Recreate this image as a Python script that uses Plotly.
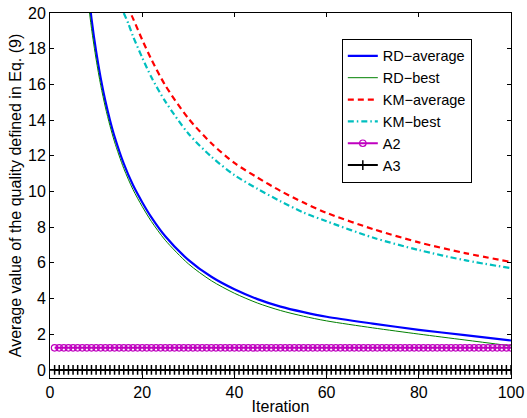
import plotly.graph_objects as go

# ---- data ----
rd_x = [8, 9, 10, 11, 12, 13, 14, 16, 18, 20, 22, 25, 30, 35, 40, 45, 50, 55, 60, 70, 80, 90, 100]
rd_average = [21.95, 19.69, 17.86, 16.35, 15.08, 14.01, 13.08, 11.56, 10.36, 9.4, 8.55, 7.49, 6.17, 5.22, 4.52, 3.97, 3.55, 3.24, 2.98, 2.6, 2.25, 1.95, 1.65]
rd_best = [21.25, 19.14, 17.41, 15.95, 14.73, 13.69, 12.78, 11.29, 10.11, 9.16, 8.32, 7.27, 5.95, 5.0, 4.3, 3.75, 3.33, 3.01, 2.75, 2.36, 2.01, 1.68, 1.35]

km_x = [16, 17, 18, 20, 22, 25, 30, 35, 40, 45, 50, 55, 60, 70, 80, 90, 100]
km_average = [20.9, 20.25, 19.7, 18.5, 17.4, 15.95, 14.1, 12.7, 11.6, 10.78, 10.03, 9.38, 8.8, 7.9, 7.15, 6.55, 6.05]
km_best = [20.0, 19.4, 18.7, 17.5, 16.4, 15.05, 13.25, 11.95, 10.92, 10.15, 9.45, 8.82, 8.33, 7.42, 6.72, 6.15, 5.7]

iterations = list(range(1, 101))
a2 = [1.24] * 100
a3 = [0.0] * 100

x_ticks = [0, 20, 40, 60, 80, 100]
y_ticks = [0, 2, 4, 6, 8, 10, 12, 14, 16, 18, 20]

FONT = "Liberation Sans"

fig = go.Figure()
fig.add_trace(go.Scatter(x=rd_x, y=rd_average, mode="lines", name="RD\u2212average",
                         line=dict(color="#0000ff", width=2.2, shape="spline", smoothing=0.8)))
fig.add_trace(go.Scatter(x=rd_x, y=rd_best, mode="lines", name="RD\u2212best",
                         line=dict(color="#008000", width=1, shape="spline", smoothing=0.8)))
fig.add_trace(go.Scatter(x=km_x, y=km_average, mode="lines", name="KM\u2212average",
                         line=dict(color="#ff0000", width=2.2, dash="6px,4px",
                                   shape="spline", smoothing=0.8)))
fig.add_trace(go.Scatter(x=km_x, y=km_best, mode="lines", name="KM\u2212best",
                         line=dict(color="#00bfbf", width=2.2, dash="6px,3px,1.5px,3px",
                                   shape="spline", smoothing=0.8)))
fig.add_trace(go.Scatter(x=iterations, y=a2, mode="lines+markers", name="A2",
                         line=dict(color="#bf00bf", width=2),
                         marker=dict(symbol="circle-open", size=6.5, color="#bf00bf",
                                     line=dict(width=1.2, color="#bf00bf"))))
fig.add_trace(go.Scatter(x=iterations, y=a3, mode="lines+markers", name="A3",
                         line=dict(color="#000000", width=2),
                         marker=dict(symbol="cross-thin", size=7, color="#000000",
                                     line=dict(width=1.5, color="#000000"))))

axis_common = dict(showline=True, linecolor="black", linewidth=1, mirror="ticks",
                   ticks="inside", ticklen=4, tickcolor="black", showgrid=False,
                   zeroline=False, automargin=False,
                   tickfont=dict(family=FONT, size=16, color="black"))

fig.update_layout(
    width=527, height=418,
    margin=dict(l=50, r=16, t=13, b=40),
    paper_bgcolor="white", plot_bgcolor="white",
    font=dict(family=FONT, size=16, color="black"),
    showlegend=True,
    legend=dict(x=0.633, y=0.929, xanchor="left", yanchor="top",
                bgcolor="white", bordercolor="black", borderwidth=1,
                font=dict(family=FONT, size=14.5, color="black"),
                tracegroupgap=0),
    xaxis=dict(range=[0, 100], tickvals=x_ticks, **axis_common,
               title=dict(text="Iteration", font=dict(family=FONT, size=16), standoff=0)),
    yaxis=dict(range=[-0.45, 20], tickvals=y_ticks, **axis_common,
               title=dict(text="Average value of the quality defined in Eq. (9)",
                          font=dict(family=FONT, size=16), standoff=2)),
)

fig.write_html("out.html", config={"displayModeBar": False},
               post_script="document.body.style.margin='0';document.body.style.overflow='hidden';")
